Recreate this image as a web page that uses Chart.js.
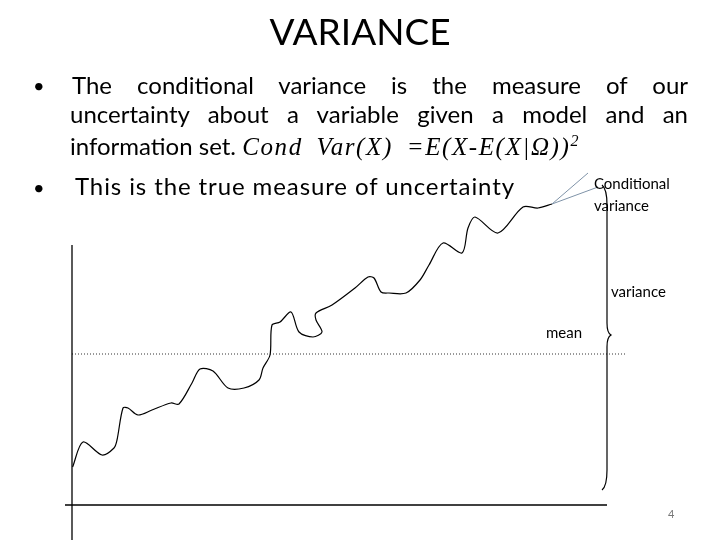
<!DOCTYPE html>
<html><head><meta charset="utf-8">
<script src="https://cdn.jsdelivr.net/npm/chart.js@4"></script>
<style>
body{margin:0;width:720px;height:540px;background:#fff;overflow:hidden;font-family:Lato,"Open Sans",sans-serif;}
#wrap{position:absolute;left:0;top:0;width:720px;height:540px;}
.t{position:absolute;white-space:nowrap;color:#000;}
.j{text-align:justify;text-align-last:justify;white-space:normal;}
</style></head><body>
<div id="wrap"><canvas id="c" width="720" height="540"></canvas></div>
<div class="t" style="left:0;width:720px;text-align:center;top:8px;font-size:37px;">VARIANCE</div>
<div class="t" style="left:33px;top:73px;font-size:20px;">•</div>
<div class="t j" style="left:72px;width:616px;top:70px;font-size:24px;">The conditional variance is the measure of our</div>
<div class="t j" style="left:70px;width:618px;top:99px;font-size:24px;">uncertainty about a variable given a model and an</div>
<div class="t" style="left:70px;top:131px;font-size:24px;">information set. <span style="font-family:'Liberation Serif',serif;font-style:italic;font-size:25px;letter-spacing:1.6px;word-spacing:6px;">Cond Var(X) =E(X-E(X|Ω))<sup style="font-size:16px">2</sup></span></div>
<div class="t" style="left:33px;top:175px;font-size:20px;">•</div>
<div class="t" style="left:75px;top:171px;font-size:24px;letter-spacing:0.9px;">This is the true measure of uncertainty</div>
<div class="t" style="left:594px;top:172px;font-size:15px;line-height:22px;">Conditional<br>variance</div>
<div class="t" style="left:611px;top:282px;font-size:15px;">variance</div>
<div class="t" style="left:546px;top:323px;font-size:15px;">mean</div>
<div class="t" style="left:668px;top:507px;font-size:11px;color:#777;">4</div>
<script>
const pathX=[0.6,11,30,42,45,51,56,66,80,99,107,120,128,141,156,172,187,191,198,200,208,219,227,241,250,244,244,260,283,296,302,309,317,334,348,357,371,390,396,403,426,451,466,480];
const pathY=[38,63,50,57,65,97,97,90,95,102,101,122,136,134,117,117,125,137,150,180,183,193,173,168,173,185,192,200,217,228,227,213,212,212,225,240,262,252,277,288,272,298,297,301];
const axisX=[-7,535]; const axisY=[0,0];
const yAxisX=[0,0]; const yAxisY=[-35,260];
const meanX=[0,553]; const meanY=[151,151];
const calloutX=[480,526]; const calloutY=[301,318];
const callout2X=[480,516]; const callout2Y=[301,332];
const pts=(xs,ys)=>xs.map((x,i)=>({x:x,y:ys[i]}));
const brace={id:'brace',afterDraw(ch){const c=ch.ctx,xs=ch.scales.x,ys=ch.scales.y;
 const x=xs.getPixelForValue(533),t=ys.getPixelForValue(320),b=ys.getPixelForValue(15),m=ys.getPixelForValue(170);
 c.save();c.strokeStyle='#000';c.lineWidth=1.2;c.beginPath();
 c.moveTo(x-3,t);c.quadraticCurveTo(x+2,t+4,x+2,t+20);c.lineTo(x+2,m-12);c.quadraticCurveTo(x+2,m-2,x+6,m);
 c.quadraticCurveTo(x+2,m+2,x+2,m+12);c.lineTo(x+2,b-20);c.quadraticCurveTo(x+2,b-4,x-3,b);c.stroke();c.restore();}};
new Chart(document.getElementById('c'),{type:'scatter',
 data:{datasets:[
  {data:pts(pathX,pathY),showLine:true,borderColor:'#000',borderWidth:1.2,pointRadius:0,tension:0.3},
  {data:pts(axisX,axisY),showLine:true,borderColor:'#000',borderWidth:1.3,pointRadius:0},
  {data:pts(yAxisX,yAxisY),showLine:true,borderColor:'#000',borderWidth:1.3,pointRadius:0},
  {data:pts(meanX,meanY),showLine:true,borderColor:'#333',borderWidth:1,borderDash:[1,2],pointRadius:0},
  {data:pts(calloutX,calloutY),showLine:true,borderColor:'#7f93a8',borderWidth:1,pointRadius:0},
  {data:pts(callout2X,callout2Y),showLine:true,borderColor:'#7f93a8',borderWidth:1,pointRadius:0}
 ]},
 options:{responsive:false,animation:false,events:[],clip:false,
  layout:{padding:{left:62,right:95,top:130,bottom:0}},
  plugins:{legend:{display:false},tooltip:{enabled:false}},
  scales:{x:{type:'linear',min:-10,max:553,display:false},y:{min:-35,max:375,display:false}}},
 plugins:[brace]});
</script></body></html>
